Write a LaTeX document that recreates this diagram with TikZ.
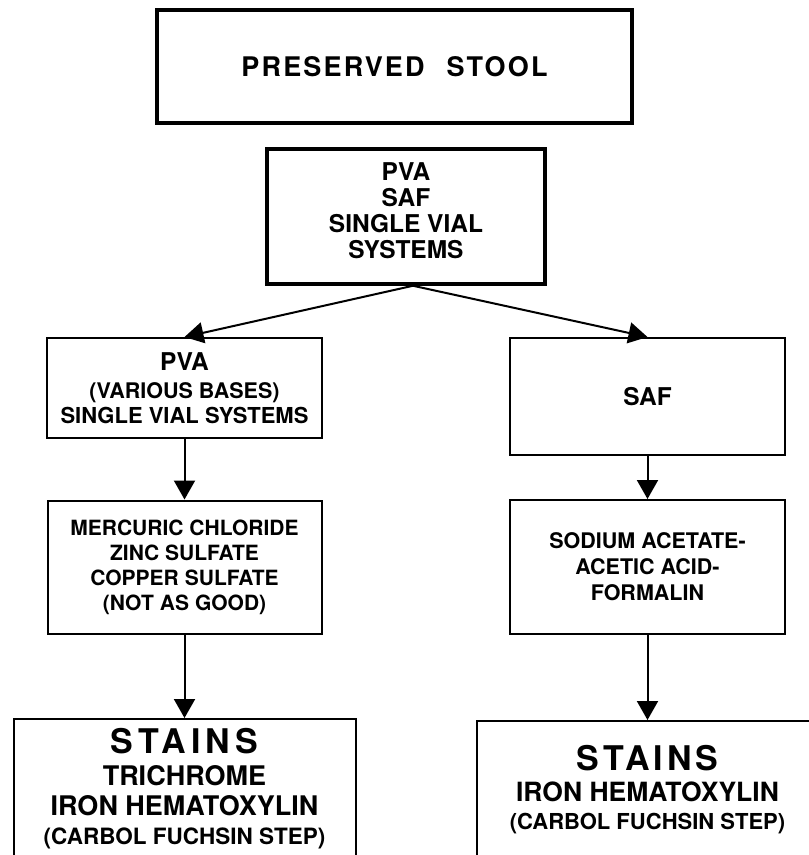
\documentclass[tikz,border=0pt]{standalone}
\usepackage{fontspec}
\setmainfont{TeX Gyre Heros}
\usetikzlibrary{arrows.meta}

\newcommand{\fs}[1]{\fontsize{#1}{#1}\selectfont}

\begin{document}
\begin{tikzpicture}[
  x=1pt, y=-1pt,
  every node/.style={align=center, inner sep=0pt},
  box/.style={draw, line width=2pt, font=\bfseries\fontsize{21}{25}\selectfont},
  flow/.style={-{Triangle[length=19pt, width=21pt]}, line width=2pt},
]

% Page, 1 unit = 1 pixel of the original
\useasboundingbox (0,0) rectangle (809,855);

% Top
\node[box, line width=4pt, minimum width=475pt, minimum height=113pt] (stool) at (394.5,66.5)
  {\fs{27}\addfontfeature{LetterSpace=8}PRESERVED\hspace{22pt}STOOL};

\node[box, line width=3.5pt, minimum width=278pt, minimum height=135pt, text depth=12pt,
      font=\bfseries\fontsize{24.5}{26}\selectfont] (vials) at (406,216.5)
  {PVA\\ SAF\\ SINGLE VIAL\\ SYSTEMS};

% Left column
\node[box, minimum width=275pt, minimum height=100pt] (pva) at (184.5,388)
  {\fs{24.5}PVA\\[3pt] \fs{21.5}(VARIOUS BASES)\\ \fs{22}SINGLE VIAL SYSTEMS};

\node[box, minimum width=274pt, minimum height=133pt] (salts) at (184.5,567)
  {MERCURIC CHLORIDE\\ ZINC SULFATE\\ COPPER\hspace{6pt}SULFATE\\ (NOT\hspace{6pt}AS\hspace{6pt}GOOD)};

\node[box, anchor=north, minimum width=342pt, inner ysep=9pt, text depth=30pt,
      font=\bfseries\fontsize{27}{29.5}\selectfont] (stainsl) at (184.5,718)
  {\fs{34}\addfontfeature{LetterSpace=15}STAINS\\[3pt] TRICHROME\\ IRON HEMATOXYLIN\\ \fs{22.5}(CARBOL FUCHSIN STEP)};

% Right column
\node[box, minimum width=275pt, minimum height=117pt] (saf) at (647.5,396.5)
  {\fs{24.5}SAF};

\node[box, minimum width=275pt, minimum height=134pt,
      font=\bfseries\fontsize{21.5}{26}\selectfont] (saaf) at (647.5,567)
  {SODIUM ACETATE-\\ ACETIC ACID-\\ FORMALIN};

\node[box, anchor=north, minimum width=342pt, inner ysep=24pt, text depth=30pt,
      font=\bfseries\fontsize{26.5}{28}\selectfont] (stainsr) at (647.5,720)
  {\fs{34}\addfontfeature{LetterSpace=12}STAINS\\[3pt] IRON HEMATOXYLIN\\ \fs{22}(CARBOL FUCHSIN STEP)};

% Arrows
\draw[flow] ([xshift=7pt]vials.south) -- (pva.north);
\draw[flow] ([xshift=7pt]vials.south) -- (saf.north);
\draw[flow] (pva) -- (salts);
\draw[flow] (salts) -- (stainsl);
\draw[flow] (saf) -- (saaf);
\draw[flow] (saaf) -- (stainsr);

\end{tikzpicture}
\end{document}
